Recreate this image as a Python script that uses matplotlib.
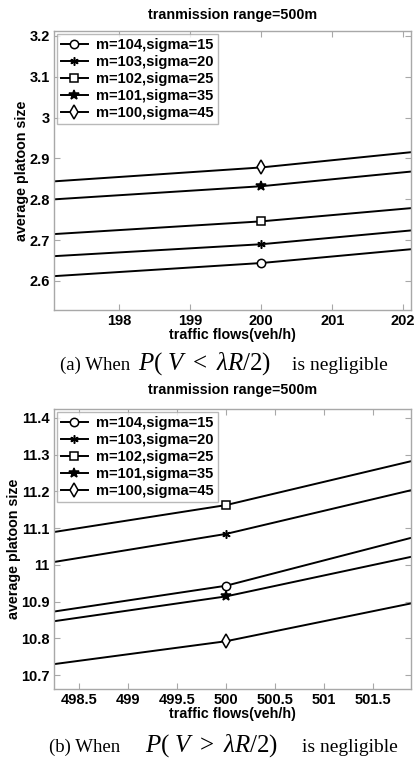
import numpy as np
import matplotlib.pyplot as plt

plt.rcParams["mathtext.fontset"] = "custom"
plt.rcParams["mathtext.rm"] = "Liberation Serif"
plt.rcParams["mathtext.it"] = "Liberation Serif:italic"

# =========================
# DATA
# =========================
labels = ["m=104,sigma=15", "m=103,sigma=20", "m=102,sigma=25",
          "m=101,sigma=35", "m=100,sigma=45"]
markers = ["o", (6, 2, 0), "s", "*", "d"]

# (a) P(V < lambda R/2) negligible
flow_a = [197, 200, 203]
size_a = [
    [2.611, 2.644, 2.692],
    [2.660, 2.690, 2.738],
    [2.714, 2.746, 2.792],
    [2.799, 2.832, 2.883],
    [2.843, 2.878, 2.931],
]
xticks_a = [198, 199, 200, 201, 202]
yticks_a = [2.6, 2.7, 2.8, 2.9, 3.0, 3.1, 3.2]

# (b) P(V > lambda R/2) negligible
flow_b = [498, 500, 502]
size_b = [
    [10.863, 10.943, 11.081],
    [10.997, 11.084, 11.210],
    [11.079, 11.1625, 11.289],
    [10.837, 10.914, 11.028],
    [10.721, 10.792, 10.901],
]
xticks_b = [498.5, 499, 499.5, 500, 500.5, 501, 501.5]
yticks_b = [10.7, 10.8, 10.9, 11.0, 11.1, 11.2, 11.3, 11.4]

GRAY = "#a8a8a8"
FONT = "Liberation Sans"
SERIF = "Liberation Serif"


def draw_panel(ax, flow, sizes, xticks, yticks, xlim, ylim, ytick_fmt, title_pad):
    for vals, lab, mk in zip(sizes, labels, markers):
        if mk == "*":
            style = dict(markersize=7, markerfacecolor="black")
        elif mk == "d":
            style = dict(markersize=7, markerfacecolor="white")
        elif isinstance(mk, tuple):
            style = dict(markersize=6, markerfacecolor="black")
        else:
            style = dict(markersize=6, markerfacecolor="white")
        ax.plot(flow, vals, color="black", linewidth=1.4, marker=mk,
                markevery=[1], markeredgecolor="black", markeredgewidth=1.1,
                label=lab, **style)
    ax.set_xlim(*xlim)
    ax.set_ylim(*ylim)
    ax.set_xticks(xticks)
    ax.set_yticks(yticks)
    ax.set_xticklabels([("%g" % t) for t in xticks])
    ax.set_yticklabels([ytick_fmt(t) for t in yticks])
    for sp in ax.spines.values():
        sp.set_color(GRAY)
        sp.set_linewidth(1.0)
    ax.tick_params(direction="in", top=True, right=True, color=GRAY,
                   length=4, width=0.8, pad=3)
    for lbl in ax.get_xticklabels() + ax.get_yticklabels():
        lbl.set_fontfamily(FONT)
        lbl.set_fontweight("bold")
        lbl.set_fontsize(10.5)
    ax.set_title("tranmission range=500m", fontfamily=FONT,
                 fontweight="bold", fontsize=10.3, pad=title_pad)
    ax.set_xlabel("traffic flows(veh/h)", fontfamily=FONT,
                  fontweight="bold", fontsize=10.3, labelpad=0)
    ax.set_ylabel("average platoon size", fontfamily=FONT,
                  fontweight="bold", fontsize=10.3, labelpad=0)
    leg = ax.legend(loc="upper left", prop={"family": FONT, "weight": "bold",
                                           "size": 10.5},
                    frameon=True, fancybox=False, borderaxespad=0.2,
                    handlelength=1.8, handletextpad=0.6, labelspacing=0.2,
                    borderpad=0.3)
    leg.get_frame().set_edgecolor(GRAY)
    leg.get_frame().set_linewidth(1.0)


def caption(fig, y, head, head_x, math, math_x, tail_x):
    fy = 1 - y / H
    fig.text(head_x / W, fy, head, ha="left", va="baseline",
             fontfamily=SERIF, fontsize=13.5)
    fig.text(math_x / W, fy, math, ha="center", va="baseline",
             fontfamily=SERIF, fontsize=18)
    fig.text(tail_x / W, fy, "is negligible", ha="right", va="baseline",
             fontfamily=SERIF, fontsize=14)


W, H = 417, 763
fig = plt.figure(figsize=(W / 100, H / 100), dpi=100)

ax1 = fig.add_axes([54 / W, 1 - 310 / H, 357 / W, 279 / H])
draw_panel(ax1, flow_a, size_a, xticks_a, yticks_a,
           (197.08, 202.11), (2.529, 3.212),
           lambda t: "3" if abs(t - 3) < 1e-9 else "%.1f" % t, 9)

ax2 = fig.add_axes([54 / W, 1 - 689 / H, 357 / W, 280 / H])
draw_panel(ax2, flow_b, size_b, xticks_b, yticks_b,
           (498.245, 501.888), (10.662, 11.424),
           lambda t: "11" if abs(t - 11) < 1e-9 else "%.1f" % t, 11)

caption(fig, 370, "(a) When", 60, r"$P(\ V\ <\ \lambda R/2)$", 205, 388)
caption(fig, 752, "(b) When", 49, r"$P(\ V\ >\ \lambda R/2)$", 212, 398)

fig.savefig("out.png", dpi=100)
